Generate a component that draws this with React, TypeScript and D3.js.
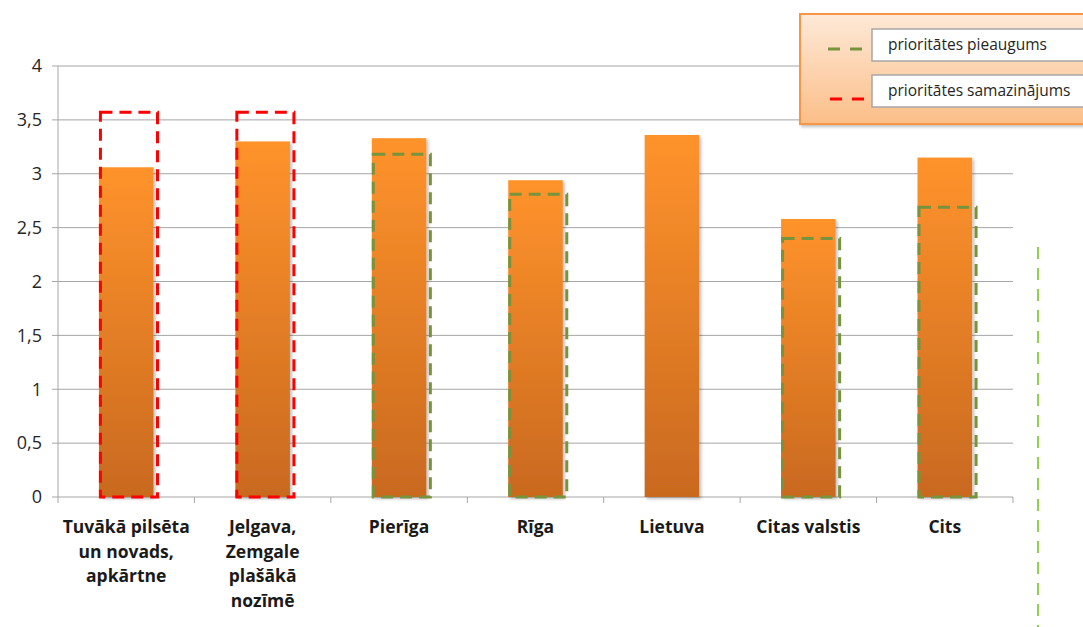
import React from "react";
import * as d3 from "d3";

// Average priority score per region
const categories: string[][] = [
  ["Tuvākā pilsēta", "un novads,", "apkārtne"],
  ["Jelgava,", "Zemgale", "plašākā", "nozīmē"],
  ["Pierīga"],
  ["Rīga"],
  ["Lietuva"],
  ["Citas valstis"],
  ["Cits"],
];
const values = [3.06, 3.3, 3.33, 2.94, 3.36, 2.58, 3.15];
// Dashed frames: previous priority level (index -> value)
const increaseFrames: [number, number][] = [
  [2, 3.18],
  [3, 2.81],
  [5, 2.4],
  [6, 2.69],
];
const decreaseFrames: [number, number][] = [
  [0, 3.57],
  [1, 3.57],
];
const yTicks = [0, 0.5, 1, 1.5, 2, 2.5, 3, 3.5, 4];
const legendItems = [
  { label: "prioritātes pieaugums", color: "#77933C" },
  { label: "prioritātes samazinājums", color: "#FF0000" },
];

const W = 1083;
const H = 627;
const plot = { left: 58, right: 1013, top: 66, bottom: 497 };
const font = "'Open Sans', 'Liberation Sans', sans-serif";

export default function App() {
  const x = d3
    .scaleBand<number>()
    .domain(d3.range(categories.length))
    .range([plot.left, plot.right])
    .paddingInner(0.6)
    .paddingOuter(0.3);
  const y = d3.scaleLinear().domain([0, 4]).range([plot.bottom, plot.top]);
  const step = x.step();
  const bw = x.bandwidth();
  const fmt = (v: number) => String(v).replace(".", ",");

  const frame = (i: number, v: number, color: string, key: string) => (
    <rect
      key={key}
      x={(x(i) as number) + 1.5}
      y={y(v)}
      width={bw + 2.5}
      height={y(0) - y(v)}
      fill="none"
      stroke={color}
      strokeWidth={3}
      strokeDasharray="12 7"
    />
  );

  return (
    <svg
      width={W}
      height={H}
      style={{ position: "absolute", left: 0, top: 0, background: "#fff" }}
    >
      <defs>
        <linearGradient id="barGrad" x1="0" y1="0" x2="0" y2="1">
          <stop offset="0" stopColor="#FF932C" />
          <stop offset="1" stopColor="#C9691F" />
        </linearGradient>
        <linearGradient id="legGrad" x1="0" y1="0" x2="0" y2="1">
          <stop offset="0" stopColor="#FEE9D8" />
          <stop offset="1" stopColor="#FBBE88" />
        </linearGradient>
        <filter id="shadow" x="-10%" y="-10%" width="130%" height="130%">
          <feDropShadow dx="2" dy="2" stdDeviation="1.5" floodColor="#000" floodOpacity="0.25" />
        </filter>
      </defs>

      {/* gridlines */}
      {yTicks.map((t) => (
        <line
          key={t}
          x1={plot.left - 6}
          x2={plot.right}
          y1={y(t)}
          y2={y(t)}
          stroke="#A6A6A6"
          strokeWidth={1}
        />
      ))}
      {/* y axis */}
      <line x1={plot.left} x2={plot.left} y1={plot.top} y2={plot.bottom} stroke="#A6A6A6" />
      {yTicks.map((t) => (
        <text
          key={"l" + t}
          x={42}
          y={y(t)}
          dy="0.35em"
          textAnchor="end"
          fontFamily={font}
          fontSize={18}
          fill="#262626"
        >
          {fmt(t)}
        </text>
      ))}
      {/* x axis ticks */}
      {d3.range(categories.length + 1).map((i) => (
        <line
          key={"xt" + i}
          x1={plot.left + i * step}
          x2={plot.left + i * step}
          y1={plot.bottom}
          y2={plot.bottom + 6}
          stroke="#A6A6A6"
        />
      ))}

      {/* bars */}
      {values.map((v, i) => (
        <rect
          key={"b" + i}
          x={x(i)}
          y={y(v)}
          width={bw}
          height={y(0) - y(v)}
          fill="url(#barGrad)"
          filter="url(#shadow)"
        />
      ))}

      {increaseFrames.map(([i, v]) => frame(i, v, "#77933C", "g" + i))}
      {decreaseFrames.map(([i, v]) => frame(i, v, "#FF0000", "r" + i))}

      {/* category labels */}
      {categories.map((lines, i) => (
        <text
          key={"c" + i}
          x={(x(i) as number) + bw / 2}
          y={533}
          textAnchor="middle"
          fontFamily={font}
          fontWeight="bold"
          fontSize={17.5}
          fill="#1a1a1a"
        >
          {lines.map((ln, j) => (
            <tspan key={j} x={(x(i) as number) + bw / 2} dy={j === 0 ? 0 : 24.5}>
              {ln}
            </tspan>
          ))}
        </text>
      ))}

      {/* separator */}
      <line
        x1={1038}
        x2={1038}
        y1={247}
        y2={H}
        stroke="#92D050"
        strokeWidth={2}
        strokeDasharray="12 9"
      />

      {/* legend */}
      <g>
        <rect
          x={800}
          y={14}
          width={300}
          height={110}
          fill="url(#legGrad)"
          stroke="#F79646"
          strokeWidth={2}
          filter="url(#shadow)"
        />
        {legendItems.map((it, k) => {
          const top = 29 + k * 46;
          return (
            <g key={it.label}>
              <line
                x1={828 + k * 2}
                x2={864 + k * 2}
                y1={top + 20 + k * 4}
                y2={top + 20 + k * 4}
                stroke={it.color}
                strokeWidth={3}
                strokeDasharray="12 10"
              />
              <rect x={872} y={top} width={230} height={32} fill="#fff" stroke="#A6A6A6" strokeWidth={1.5} />
              <text x={888} y={top + 21} fontFamily={font} fontSize={15.5} fill="#262626">
                {it.label}
              </text>
            </g>
          );
        })}
      </g>
    </svg>
  );
}
